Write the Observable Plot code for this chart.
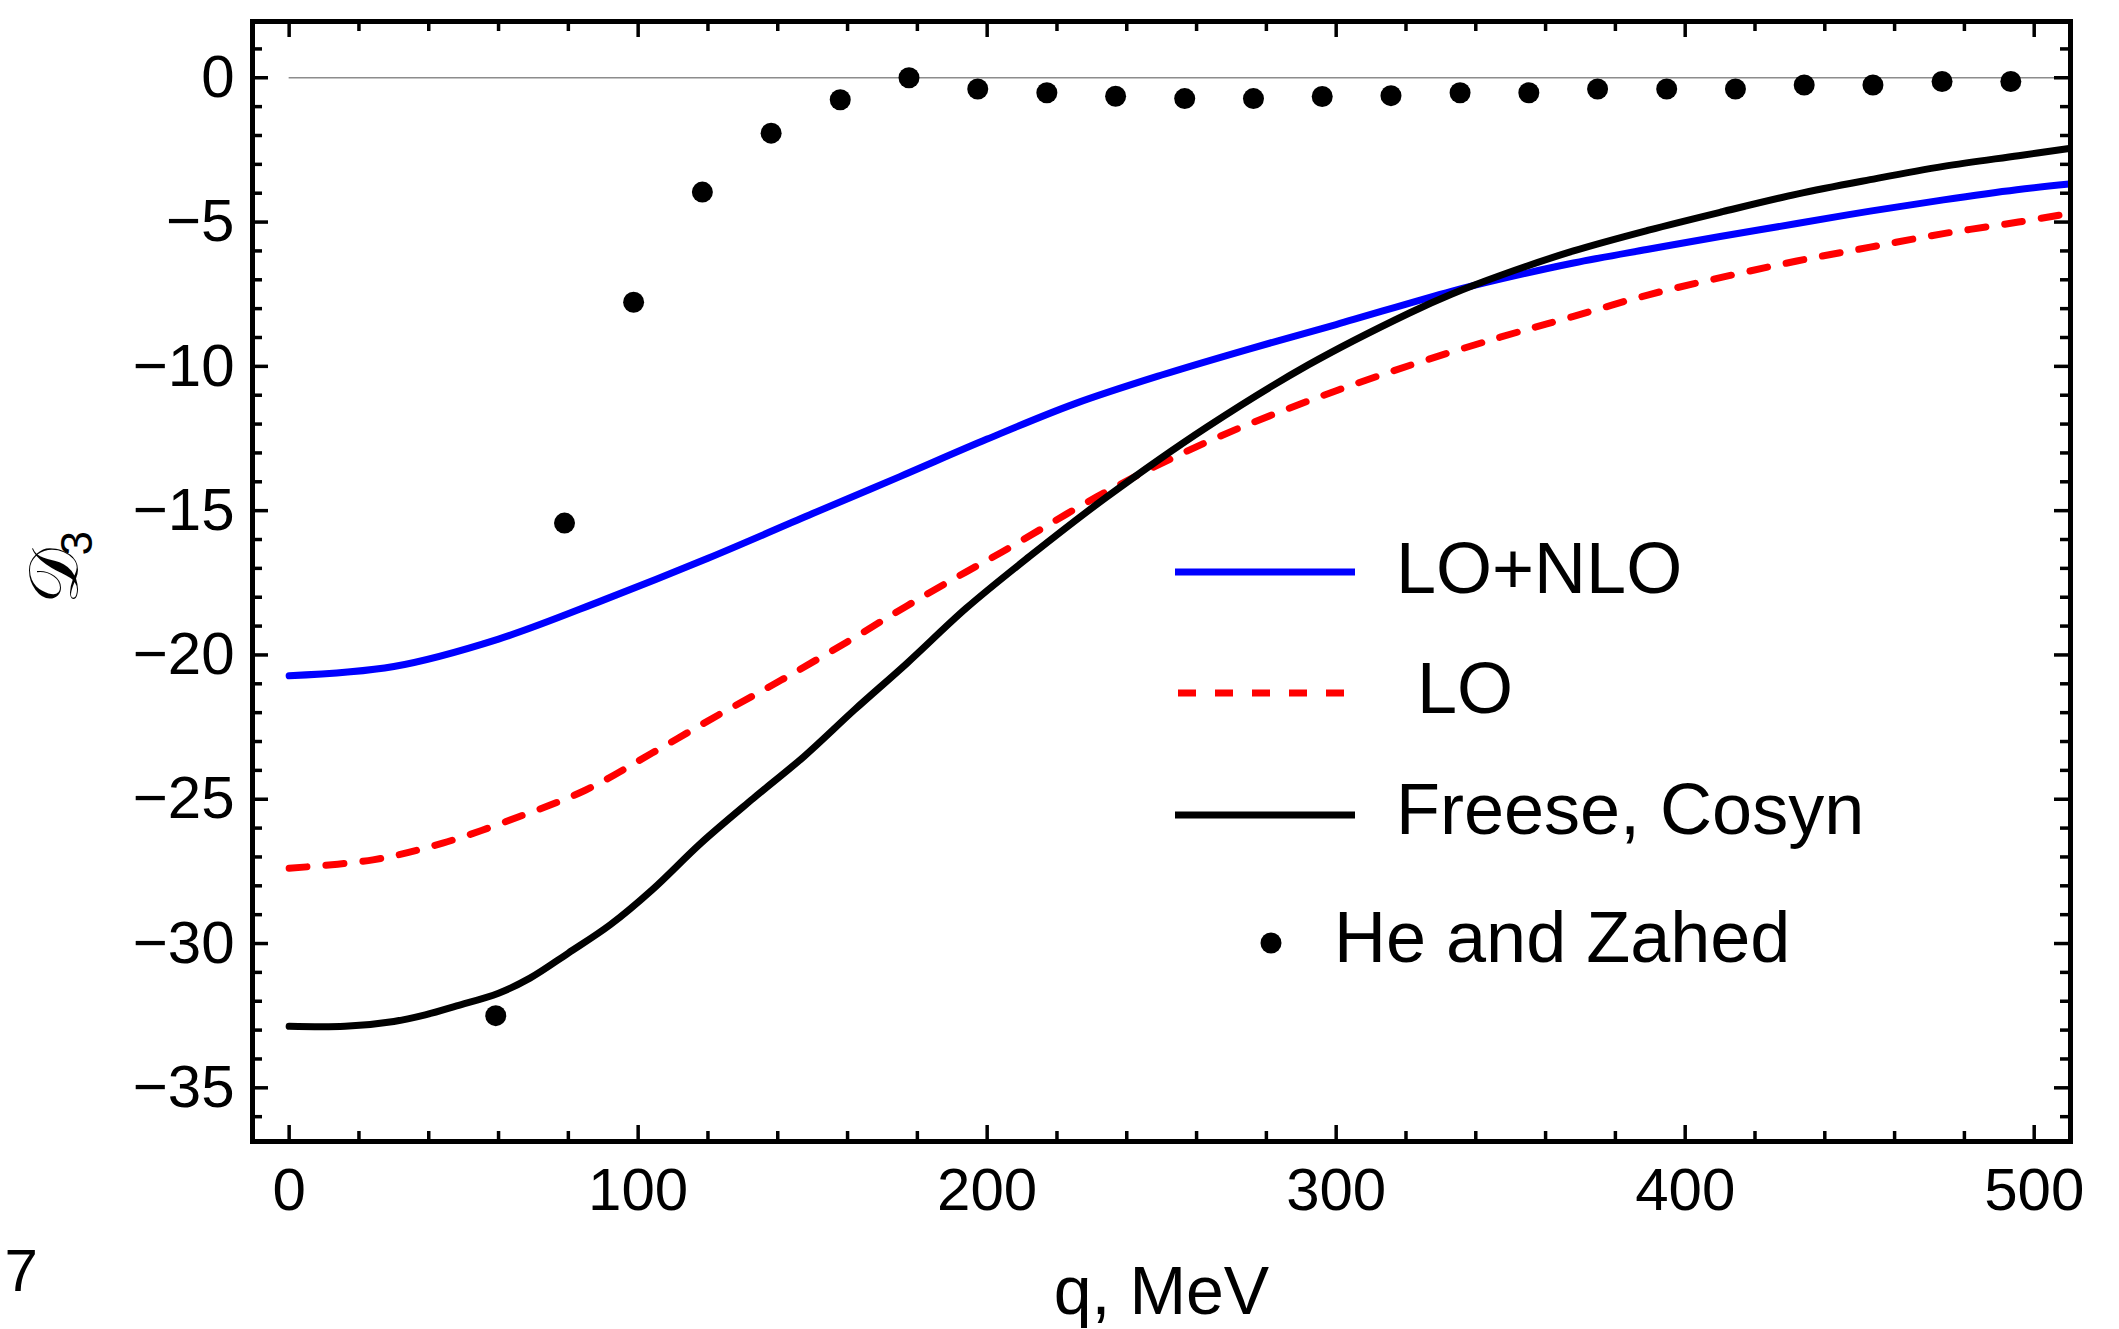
<!DOCTYPE html>
<html><head><meta charset="utf-8">
<script src="https://cdn.jsdelivr.net/npm/d3@7"></script>
<script src="https://cdn.jsdelivr.net/npm/@observablehq/plot@0.6"></script>
<style>html,body{margin:0;padding:0;background:#fff;}</style>
</head><body><div id="chart"></div>
<script>
// He and Zahed points
const qHZ = [59.2, 78.9, 98.7, 118.4, 138.1, 157.9, 177.6, 197.3, 217.1, 236.8, 256.6, 276.3, 296.0, 315.7, 335.5, 355.2, 374.9, 394.7, 414.4, 434.1, 453.8, 473.6, 493.3];
const dHZ = [-32.5, -15.43, -7.78, -3.96, -1.92, -0.76, 0.0, -0.39, -0.52, -0.64, -0.72, -0.72, -0.65, -0.62, -0.52, -0.52, -0.39, -0.39, -0.39, -0.25, -0.25, -0.13, -0.13];
// LO+NLO
const qNLO = [0, 30, 60, 90, 120, 150, 175, 200, 225, 250, 275, 300, 333, 347, 368, 389, 410, 432, 453, 474, 495, 510];
const dNLO = [-20.72, -20.4, -19.45, -18.1, -16.65, -15.1, -13.82, -12.52, -11.3, -10.3, -9.4, -8.55, -7.4, -6.98, -6.42, -5.95, -5.5, -5.05, -4.62, -4.23, -3.88, -3.68];
// LO
const qLO = [0, 24, 44, 66, 85, 104, 123, 141, 160, 177, 194, 204, 234, 263, 292, 321, 347, 368, 389.5, 410.7, 432, 453, 474, 495.5, 510];
const dLO = [-27.39, -27.1, -26.52, -25.6, -24.68, -23.4, -22.08, -20.87, -19.54, -18.3, -17.12, -16.45, -14.35, -12.62, -11.2, -9.97, -8.99, -8.27, -7.52, -6.91, -6.35, -5.87, -5.4, -5.0, -4.7];
// Freese, Cosyn
const qFC = [0, 16, 30, 39, 48, 60, 69, 80, 92, 104, 118, 133, 147.5, 162, 177, 194, 212, 234, 263, 292, 321, 333, 347, 368, 389.5, 410.7, 432, 453, 474, 495.5, 510];
const dFC = [-32.87, -32.87, -32.7, -32.47, -32.16, -31.72, -31.2, -30.33, -29.35, -28.14, -26.52, -24.97, -23.52, -21.9, -20.29, -18.38, -16.6, -14.55, -12.1, -9.95, -8.15, -7.5, -6.85, -6.0, -5.28, -4.64, -4.03, -3.53, -3.07, -2.7, -2.45];
// ticks
const xMajor = [0, 100, 200, 300, 400, 500];
const xMinor = d3.range(0, 501, 20).filter(v => v % 100 !== 0);
const yMajor = [0, -5, -10, -15, -20, -25, -30, -35];
const yMinor = d3.range(-36, 2, 1).filter(v => v % 5 !== 0);

const W = 2119, H = 1329, mL = 252, mR = 49, mT = 21, mB = 188;
const plotH = H - mT - mB, plotW = W - mL - mR;
const font = "'Liberation Sans', Arial, Helvetica, sans-serif";
const toRows = (qs, vs) => qs.map((q, i) => ({q, v: vs[i]}));
const LW = 7;

const svg = Plot.plot({
  width: W, height: H,
  marginLeft: mL, marginRight: mR, marginTop: mT, marginBottom: mB,
  style: {fontFamily: font, background: "white", color: "black"},
  x: {domain: [-10.5, 510.4]},
  y: {domain: [-36.86, 1.95]},
  marks: [
    Plot.ruleY([0], {x1: 0, x2: 510.4, stroke: "#8c8c8c", strokeWidth: 1.5}),
    Plot.line(toRows(qNLO, dNLO), {x: "q", y: "v", stroke: "#0000ff", strokeWidth: LW, curve: "catmull-rom"}),
    Plot.line(toRows(qLO, dLO), {x: "q", y: "v", stroke: "#ff0000", strokeWidth: LW, strokeDasharray: "18,19", curve: "catmull-rom"}),
    Plot.line(toRows(qFC, dFC), {x: "q", y: "v", stroke: "#000000", strokeWidth: LW, curve: "catmull-rom"}),
    Plot.dot(toRows(qHZ, dHZ), {x: "q", y: "v", r: 10.5, fill: "#000", stroke: "none"}),
    Plot.frame({stroke: "#000", strokeWidth: 5}),
    Plot.tickX(xMajor, {x: d => d, insetTop: plotH - 16, strokeWidth: 3.5}),
    Plot.tickX(xMajor, {x: d => d, insetBottom: plotH - 16, strokeWidth: 3.5}),
    Plot.tickX(xMinor, {x: d => d, insetTop: plotH - 10, strokeWidth: 3.5}),
    Plot.tickX(xMinor, {x: d => d, insetBottom: plotH - 10, strokeWidth: 3.5}),
    Plot.tickY(yMajor, {y: d => d, insetRight: plotW - 16, strokeWidth: 3.5}),
    Plot.tickY(yMajor, {y: d => d, insetLeft: plotW - 16, strokeWidth: 3.5}),
    Plot.tickY(yMinor, {y: d => d, insetRight: plotW - 10, strokeWidth: 3.5}),
    Plot.tickY(yMinor, {y: d => d, insetLeft: plotW - 10, strokeWidth: 3.5}),
    Plot.axisX(xMajor, {tickSize: 0, tickPadding: 26, fontSize: 60, label: null}),
    Plot.axisY(yMajor, {tickSize: 0, tickPadding: 18, fontSize: 60, label: null}),
    Plot.text(["q, MeV"], {frameAnchor: "bottom", text: d => d, dy: 172, lineAnchor: "bottom", fontSize: 68}),
    Plot.text(["𝒟"], {frameAnchor: "left", text: d => d, dx: -197, dy: 22, rotate: -90, fontSize: 70, fontFamily: "'DejaVu Serif', 'DejaVu Sans', serif"}),
    Plot.text(["3"], {frameAnchor: "left", text: d => d, dx: -175, dy: -26, rotate: -90, fontSize: 44}),
    Plot.text(["7"], {frameAnchor: "bottom-left", text: d => d, dx: -248, dy: 149, lineAnchor: "bottom", textAnchor: "start", fontSize: 60})
  ]
});

// legend
const g = d3.select(svg).append("g").attr("font-family", font).attr("font-size", 72).attr("fill", "#000").attr("text-anchor", "start");
g.append("line").attr("x1", 1175).attr("x2", 1355).attr("y1", 572).attr("y2", 572).attr("stroke", "#0000ff").attr("stroke-width", LW);
g.append("text").attr("x", 1396).attr("y", 593).text("LO+NLO");
g.append("line").attr("x1", 1178).attr("x2", 1344).attr("y1", 693).attr("y2", 693).attr("stroke", "#ff0000").attr("stroke-width", LW).attr("stroke-dasharray", "18,19");
g.append("text").attr("x", 1417).attr("y", 713).text("LO");
g.append("line").attr("x1", 1175).attr("x2", 1355).attr("y1", 815).attr("y2", 815).attr("stroke", "#000").attr("stroke-width", LW);
g.append("text").attr("x", 1396).attr("y", 834).text("Freese, Cosyn");
g.append("circle").attr("cx", 1271).attr("cy", 943).attr("r", 10.5).attr("fill", "#000");
g.append("text").attr("x", 1334).attr("y", 962).text("He and Zahed");

document.getElementById("chart").appendChild(svg);
</script>
</body></html>
